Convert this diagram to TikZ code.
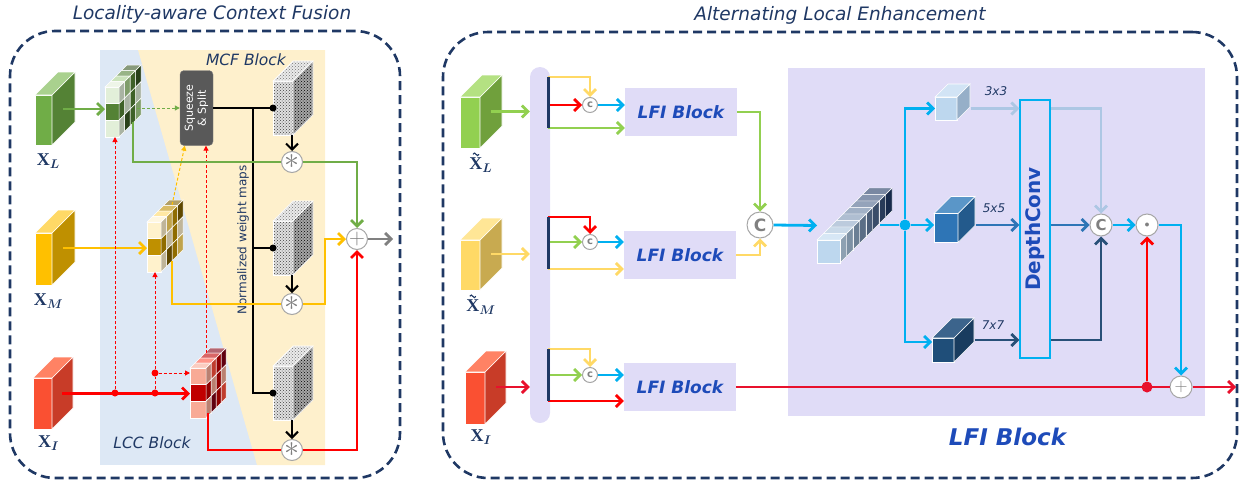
\RequirePackage{fix-cm}
\documentclass[tikz,border=0pt]{standalone}
\usepackage{bm}
\usepackage{fontspec}
\setsansfont{DejaVu Sans}
\newfontfamily\lacserif{Liberation Serif}
\usepackage{tikz}
\usetikzlibrary{arrows.meta, positioning, calc, patterns}

\definecolor{lacnavy}{RGB}{31,56,100}
\definecolor{lacblue}{RGB}{30,75,185}
\definecolor{laclav}{RGB}{224,220,247}
\definecolor{lacbgblue}{RGB}{221,232,245}
\definecolor{lacbgyel}{RGB}{254,240,204}
\definecolor{laccyan}{RGB}{0,176,240}
\definecolor{lacgreen}{RGB}{112,173,71}
\definecolor{laclgreen}{RGB}{146,208,80}
\definecolor{lacyel}{RGB}{255,192,0}
\definecolor{laclyel}{RGB}{255,217,102}
\definecolor{lacred}{RGB}{255,0,0}
\definecolor{lacdred}{RGB}{232,17,45}
% cube colours
\definecolor{xlfront}{RGB}{112,173,71}\definecolor{xlside}{RGB}{84,130,53}\definecolor{xltop}{RGB}{169,209,142}
\definecolor{xmfront}{RGB}{255,192,0}\definecolor{xmside}{RGB}{191,144,0}\definecolor{xmtop}{RGB}{255,217,102}
\definecolor{xifront}{RGB}{250,80,50}\definecolor{xiside}{RGB}{200,60,40}\definecolor{xitop}{RGB}{255,130,100}
\definecolor{txlfront}{RGB}{146,208,80}\definecolor{txlside}{RGB}{112,160,60}\definecolor{txltop}{RGB}{180,225,130}
\definecolor{txmfront}{RGB}{255,217,102}\definecolor{txmside}{RGB}{200,170,80}\definecolor{txmtop}{RGB}{255,230,150}
\definecolor{k3front}{RGB}{189,215,238}\definecolor{k3side}{RGB}{150,175,200}\definecolor{k3top}{RGB}{210,228,245}
\definecolor{k5front}{RGB}{46,117,182}\definecolor{k5side}{RGB}{35,90,140}\definecolor{k5top}{RGB}{90,150,200}
\definecolor{k7front}{RGB}{31,78,121}\definecolor{k7side}{RGB}{25,60,95}\definecolor{k7top}{RGB}{60,100,140}
\definecolor{k3arr}{RGB}{173,199,228}\definecolor{k5arr}{RGB}{46,117,182}\definecolor{k7arr}{RGB}{40,80,120}
\definecolor{catlight}{RGB}{189,215,238}\definecolor{catdark}{RGB}{31,56,100}
% map palettes
\definecolor{mapg0}{RGB}{226,239,217}\definecolor{mapg1}{RGB}{169,209,142}\definecolor{mapg2}{RGB}{84,130,53}\definecolor{mapg3}{RGB}{55,86,35}
\definecolor{mapy0}{RGB}{255,242,204}\definecolor{mapy1}{RGB}{255,217,102}\definecolor{mapy2}{RGB}{191,144,0}\definecolor{mapy3}{RGB}{127,96,0}
\definecolor{mapr0}{RGB}{248,170,150}\definecolor{mapr1}{RGB}{255,80,60}\definecolor{mapr2}{RGB}{192,0,0}\definecolor{mapr3}{RGB}{130,0,20}

% depth faces of a cube whose front face is a node
\newcommand{\cubeside}[4]{%
  \path[draw=white, line width=0.6pt, #3] (#1.north east) -- ++(#2,-#2) -- ([shift={(#2,-#2)}]#1.south east) -- (#1.south east) -- cycle;
  \path[draw=white, line width=0.6pt, #4] (#1.north west) -- ++(#2,-#2) -- ([shift={(#2,-#2)}]#1.north east) -- (#1.north east) -- cycle;
}
% checkered feature map on a node: slices of cells, back to front
\newcommand{\checkmap}[5]{%
  \foreach \k in {3,2,1,0} {
    \foreach \j in {0,1,2} {
      \pgfmathtruncatemacro\ci{mod(\k+2*\j+\k*\j,4)}
      \coordinate (cm) at ([shift={(\k*#4,-\k*#4+\j*#3/3)}]#1.north west);
      \draw[white, line width=0.5pt, fill=#5\ci] (cm) rectangle ++(#2,#3/3);
      \draw[white, line width=0.5pt, fill=#5\ci!75!black] ($(cm)+(#2,0)$) -- ++(#4,-#4) -- ++(0,#3/3) -- ++(-#4,#4) -- cycle;
      \ifnum\j=0
        \draw[white, line width=0.5pt, fill=#5\ci!60!white] (cm) -- ++(#4,-#4) -- ++(#2,0) -- ++(-#4,#4) -- cycle;
      \fi
    }
  }
}

\begin{document}
\begin{tikzpicture}[x=1pt, y=-1pt,
    panel/.style={draw=lacnavy, line width=2.6pt, dash pattern=on 9pt off 5pt,
      rounded corners=45pt, inner sep=0pt},
    title/.style={text=lacnavy, font=\sffamily\itshape\fontsize{18.5}{18.5}\selectfont},
    blocklabel/.style={text=lacnavy, font=\sffamily\itshape\fontsize{15.5}{15.5}\selectfont},
    xlabel/.style={text=lacnavy, font=\lacserif\bfseries\fontsize{18}{18}\selectfont},
    tildemark/.style={draw=lacnavy, line width=1.1pt},
    klabel/.style={text=lacnavy, font=\sffamily\itshape\fontsize{12}{12}\selectfont},
    cubefront/.style={rectangle, draw=white, line width=0.6pt, inner sep=0pt, outer sep=0pt},
    mapbox/.style={rectangle, inner sep=0pt, outer sep=0pt},
    sqbox/.style={rectangle, rounded corners=4pt, fill=black!65, draw=black!50,
      minimum width=33, minimum height=75},
    wfront/.style={rectangle, draw=white, inner sep=0pt, outer sep=0pt, minimum width=20,
      minimum height=54, preaction={fill=black!12}, pattern=crosshatch dots, pattern color=black!75},
    wside/.style={preaction={fill=black!35}, pattern=crosshatch dots, pattern color=black},
    wtop/.style={preaction={fill=black!8}, pattern=crosshatch dots, pattern color=black!55},
    opc/.style={circle, draw=gray!70, fill=white, line width=1pt, inner sep=0pt,
      minimum size=#1, text=gray},
    dot/.style={circle, fill=#1, inner sep=0pt, minimum size=7pt},
    lfi/.style={rectangle, fill=laclav, minimum width=112, minimum height=48, text=lacblue,
      font=\sffamily\bfseries\itshape\fontsize{17}{17}\selectfont},
    wire/.style={draw=#1, line width=2.8pt},
    dwire/.style={draw=#1, line width=1pt, dash pattern=on 3pt off 2pt},
    flowtip/.style={-{Straight Barb[length=6pt,width=12pt]}},
    dtip/.style={-{Triangle[length=5pt,width=5pt]}}
]
    \useasboundingbox (0,0) rectangle (1244,485);

    % Panels
    \node[panel, minimum width=390, minimum height=447] (lpanel) at (205,254.5) {};
    \node[panel, minimum width=794, minimum height=446] (rpanel) at (840,255) {};
    \node[title, above=3pt of lpanel, xshift=7] (ltitle) {Locality-aware Context Fusion};
    \node[title, above=3pt of rpanel] (rtitle) {Alternating Local Enhancement};

    % Locality-aware Context Fusion
    \fill[lacbgblue] (100,50) rectangle (325,465);
    \fill[lacbgyel] (138,50) -- (325,50) -- (325,465) -- (257,465) -- cycle;
    \node[blocklabel] (mcf) at (246,60) {MCF Block};
    \node[blocklabel] (lcc) at (152,443) {LCC Block};

    \node[cubefront, fill=xlfront, minimum width=17, minimum height=50] (xl) at (43.5,120) {};
    \cubeside{xl}{23}{fill=xlside}{fill=xltop}
    \node[cubefront, fill=xmfront, minimum width=17, minimum height=52] (xm) at (43.5,259) {};
    \cubeside{xm}{23}{fill=xmside}{fill=xmtop}
    \node[cubefront, fill=xifront, minimum width=19, minimum height=51] (xi) at (42.5,403.5) {};
    \cubeside{xi}{21}{fill=xiside}{fill=xitop}
    \node[xlabel, below=5pt of xl, xshift=5] (xll) {X$_{\bm{L}}$};
    \node[xlabel, below=5pt of xm, xshift=5] (xml) {X$_{\bm{M}}$};
    \node[xlabel, below=3pt of xi, xshift=6] (xil) {X$_{\bm{I}}$};

    \node[mapbox, minimum width=14, minimum height=50] (gmap) at (112,112) {};
    \checkmap{gmap}{14}{50}{5.5}{mapg}
    \node[mapbox, minimum width=14, minimum height=50] (ymap) at (154,247) {};
    \checkmap{ymap}{14}{50}{5.5}{mapy}
    \node[mapbox, minimum width=16, minimum height=50] (rmap) at (198,393) {};
    \checkmap{rmap}{16}{50}{5}{mapr}

    \node[sqbox] (sq) at (196.5,108) {};
    \node[rotate=90, text=white, align=center, font=\sffamily\fontsize{11}{13}\selectfont] (sqtext) at (sq) {Squeeze\\\& Split};
    \node[rotate=90, text=lacnavy, font=\sffamily\fontsize{12}{12}\selectfont] (nwm) at (243,240) {Normalized weight maps};

    \foreach \n/\y in {w1/108, w2/248, w3/393} {
        \node[wfront] (\n) at (283,\y) {};
        \cubeside{\n}{20}{wside}{wtop}
    }
    \foreach \n/\y in {s1/162, s2/304, s3/450}
        \node[opc=21, font=\fontsize{30}{30}\selectfont] (\n) at (292,\y) {$\ast$};
    \node[opc=21, font=\fontsize{22}{22}\selectfont] (pl) at (357,239) {$+$};

    \node[dot=lacred] (r1) at (115,393) {};
    \node[dot=lacred] (r2) at (155,393) {};
    \node[dot=lacred] (r3) at (155,373) {};
    \coordinate (xl-o) at ($(xl.east)+(11,-11)$);
    \coordinate (xm-o) at ($(xm.east)+(11,-11)$);
    \coordinate (xi-o) at ($(xi.east)+(10,-10)$);
    \coordinate (gm-o) at (133,122);
    \coordinate (gm-r) at (137,108);
    \coordinate (ym-o) at (172,261);
    \coordinate (ym-t) at (172,205);
    \coordinate (rm-o) at (208,413);
    \coordinate (rm-t) at (206,353);
    \coordinate (yb) at (325,239);
    \coordinate (tr) at (253,108);
    \coordinate (lout) at (393,239);

    % Arrows
    \draw[wire=lacgreen, flowtip] (xl-o) -- (xl-o -| gmap.west);
    \draw[wire=lacyel, flowtip] (xm-o) -- (xm-o -| ymap.west);
    \draw[wire=lacred, flowtip] (xi-o) -- (xi-o -| rmap.west);
    \draw[dwire=lacgreen, dtip] (gm-r) -- (gm-r -| sq.west);
    \draw[dwire=lacyel, dtip] (ym-t) -- ($(sq.south west)!0.15!(sq.south east)$);
    \draw[dwire=lacred, dtip] (rm-t) -- (rm-t |- sq.south);
    \draw[dwire=lacred, dtip] (r1) -- (r1 |- gmap.south);
    \draw[dwire=lacred] (r2) -- (r3);
    \draw[dwire=lacred, dtip] (r3) -- (r3 |- ymap.south);
    \draw[dwire=lacred, dtip] (r3) -- (r3 -| rmap.west);
    \draw[wire=black, line width=2pt] (sq.east) -- (w1.west);
    \draw[wire=black, line width=2pt] (tr) |- (w3.west);
    \draw[wire=black, line width=2pt] (tr |- w2.west) -- (w2.west);
    \foreach \n in {w1,w2,w3}
        \node[dot=black, minimum size=7pt] (\n-d) at (\n.west) {};
    \foreach \n/\s in {w1/s1, w2/s2, w3/s3}
        \draw[wire=black, line width=2pt, flowtip] (\n.south -| \s) -- (\s.north);
    \draw[wire=lacgreen] (gm-o) |- (s1.west);
    \draw[wire=lacgreen, flowtip] (s1.east) -| (pl.north);
    \draw[wire=lacyel] (ym-o) |- (s2.west);
    \draw[wire=lacyel, flowtip] (s2.east) -| (yb) -- (pl.west);
    \draw[wire=lacred] (rm-o) |- (s3.west);
    \draw[wire=lacred, flowtip] (s3.east) -| (pl.south);
    \draw[wire=gray, flowtip] (pl.east) -- (lout);

    % Alternating Local Enhancement
    \node[fill=laclav, minimum width=417, minimum height=348, inner sep=0pt] (lfibg) at (996.5,242) {};
    \node[below=8pt of lfibg, xshift=11, text=lacblue,
      font=\sffamily\bfseries\itshape\fontsize{23}{23}\selectfont] (lfilabel) {LFI Block};
    \node[rectangle, rounded corners=10pt, fill=laclav, minimum width=20, minimum height=356] (bar) at (540,245) {};

    \node[cubefront, fill=txlfront, minimum width=20, minimum height=51] (txl) at (470,122.5) {};
    \cubeside{txl}{22}{fill=txlside}{fill=txltop}
    \node[cubefront, fill=txmfront, minimum width=20, minimum height=50] (txm) at (470,265) {};
    \cubeside{txm}{22}{fill=txmside}{fill=txmtop}
    \node[cubefront, fill=xifront, minimum width=20, minimum height=52] (txi) at (475,398) {};
    \cubeside{txi}{21}{fill=xiside}{fill=xitop}
    \node[xlabel, below=6pt of txl, xshift=11] (txll) {X$_{\bm{L}}$};
    \node[xlabel, below=6pt of txm, xshift=11] (txml) {X$_{\bm{M}}$};
    \node[xlabel, below=2pt of txi, xshift=6] (txil) {X$_{\bm{I}}$};
    % tildes over X
    \foreach \n in {txll, txml}
        \draw[tildemark] ($(\n.text)+(3.5,-15)$) sin ++(1.5,-1.3) cos ++(1.5,1.3) sin ++(1.5,1.3) cos ++(1.5,-1.3);
    \foreach \n/\c in {txl/laclgreen, txm/laclyel, txi/lacdred} {
        \coordinate (\n-o) at ($(\n.east)+(11,-11)$);
        \draw[wire=\c, flowtip] (\n-o) -- (\n-o -| bar.west);
    }

    \foreach \i/\y in {1/105, 2/242, 3/375}
        \node[opc=15, font=\sffamily\bfseries\fontsize{10}{10}\selectfont] (c\i) at (590,\y) {c};
    \node[lfi] (lfi1) at (681,112) {LFI Block};
    \node[lfi] (lfi2) at (680,255) {LFI Block};
    \node[lfi] (lfi3) at (680,387) {LFI Block};
    \foreach \i/\yt/\yb/\ct/\cm/\cb in {1/77/128/laclyel/lacred/laclgreen,
        2/217/269/lacred/laclgreen/laclyel, 3/349/401/laclyel/laclgreen/lacred} {
        \coordinate (t\i) at (548,\yt);
        \coordinate (b\i) at (548,\yb);
        \draw[wire=\ct, flowtip] (t\i) -| (c\i.north);
        \draw[wire=\cm, flowtip] (t\i |- c\i) -- (c\i.west);
        \draw[wire=laccyan, flowtip] (c\i.east) -- (c\i -| lfi\i.west);
        \draw[wire=\cb, flowtip] (b\i) -- (b\i -| lfi\i.west);
        \draw[lacnavy, line width=3pt] (t\i) -- (b\i);
    }

    \node[opc=26, font=\sffamily\bfseries\fontsize{17}{17}\selectfont] (bigc) at (760,225) {C};
    \node[mapbox, minimum width=75, minimum height=75] (cat) at (854.5,225.5) {};
    \foreach \k in {7,6,...,0} {
        \pgfmathtruncatemacro\pc{round(100*\k/7)}
        \colorlet{catc}{catdark!\pc!catlight}
        \coordinate (p) at ([shift={(6.5*\k,-6.5*\k)}]cat.south west);
        \path[fill=catc!75!black, draw=white, line width=0.4pt] ($(p)+(23,0)$) -- ++(6.5,-6.5) -- ++(0,-23) -- ++(-6.5,6.5) -- cycle;
        \path[fill=catc!60!white, draw=white, line width=0.4pt] ($(p)+(0,-23)$) -- ++(6.5,-6.5) -- ++(23,0) -- ++(-6.5,6.5) -- cycle;
        \path[fill=catc, draw=white, line width=0.4pt] (p) rectangle ++(23,-23);
    }
    \draw[wire=laclgreen, flowtip] (lfi1.east) -| (bigc.north);
    \draw[wire=laclyel, flowtip] (lfi2.east) -| (bigc.south);
    \draw[wire=laccyan, flowtip] (bigc.east) -- (cat.west);

    \node[dot=laccyan, minimum size=11pt] (jd) at (905,225) {};
    \node[cubefront, fill=k3front, minimum width=22, minimum height=23] (k3) at (946,108.5) {};
    \cubeside{k3}{13}{fill=k3side}{fill=k3top}
    \node[cubefront, fill=k5front, minimum width=24, minimum height=29] (k5) at (946,228) {};
    \cubeside{k5}{17}{fill=k5side}{fill=k5top}
    \node[cubefront, fill=k7front, minimum width=22, minimum height=24] (k7) at (943,350) {};
    \cubeside{k7}{20}{fill=k7side}{fill=k7top}
    \node[klabel] (k3l) at (996,91) {3x3};
    \node[klabel] (k5l) at (994,208) {5x5};
    \node[klabel] (k7l) at (993,325) {7x7};

    \node[draw=laccyan, line width=1.5pt, minimum width=30, minimum height=258, inner sep=0pt] (dc) at (1035,229) {};
    \node[rotate=90, text=lacblue, font=\sffamily\bfseries\fontsize{20}{20}\selectfont] (dctext) at (dc) {DepthConv};
    \node[opc=22, font=\sffamily\bfseries\fontsize{15}{15}\selectfont] (cc) at (1101,225) {C};
    \node[opc=22, font=\fontsize{10}{10}\selectfont] (od) at (1147,225) {$\bullet$};
    \node[opc=22, font=\fontsize{18}{18}\selectfont] (pp) at (1181,387) {$+$};
    \node[dot=lacdred, minimum size=11pt] (rd) at (1147,387) {};

    \coordinate (cat-o) at (880,225);
    \coordinate (k3o) at ($(k3.east)+(14,0)$);
    \coordinate (k5o) at ($(k5.east)+(18,-3)$);
    \coordinate (k7i) at ($(k7.west)+(0,-8)$);
    \coordinate (k7o) at ($(k7.east)+(21,-10)$);
    \coordinate (rout) at (1236,387);

    \draw[wire=laccyan] (cat-o) -- (jd);
    \draw[wire=laccyan, flowtip] (jd) |- (k3.west);
    \draw[wire=laccyan, flowtip] (jd) -- (jd -| k5.west);
    \draw[wire=laccyan, flowtip] (jd) |- (k7i);
    \draw[wire=k3arr, flowtip] (k3o) -- (k3o -| dc.west);
    \draw[wire=k5arr, flowtip] (k5o) -- (k5o -| dc.west);
    \draw[wire=k7arr, flowtip] (k7o) -- (k7o -| dc.west);
    \draw[wire=k3arr, flowtip] (k3o -| dc.east) -| (cc.north);
    \draw[wire=k5arr, flowtip] (k5o -| dc.east) -- (cc.west);
    \draw[wire=k7arr, flowtip] (k7o -| dc.east) -| (cc.south);
    \draw[wire=laccyan, flowtip] (cc.east) -- (od.west);
    \draw[wire=laccyan, flowtip] (od.east) -| (pp.north);
    \draw[wire=lacdred] (lfi3.east) -- (pp.west);
    \draw[wire=lacdred, flowtip] (pp.east) -- (rout);
    \draw[wire=lacred, flowtip] (rd) -- (od.south);
\end{tikzpicture}
\end{document}
